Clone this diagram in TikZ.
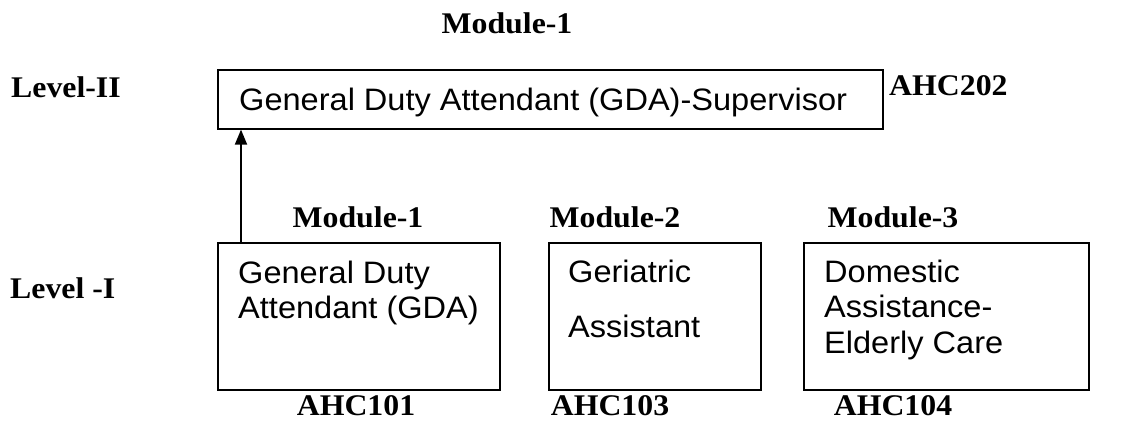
\documentclass[tikz,border=0pt]{standalone}
\usepackage{fontspec}
\setmainfont{Liberation Serif}[FakeStretch=1.06]
\newfontfamily\arialf{Liberation Sans}[FakeStretch=1.05]
\usetikzlibrary{arrows.meta}
\begin{document}
\begin{tikzpicture}[x=1pt,y=-1pt,
  lbl/.style={font=\fontsize{30}{34}\selectfont\bfseries, inner sep=0pt, anchor=base},
  boxtxt/.style={font=\arialf\fontsize{31}{34}\selectfont, inner sep=0pt, anchor=base west},
  modbox/.style={draw, line width=1.6pt, inner sep=0pt, anchor=north west}]
\useasboundingbox (0,0) rectangle (1144,423);
% top box
\node[modbox, minimum width=665pt, minimum height=59pt] (top) at (217,69) {};
\node[boxtxt] (toptxt) at (239,110) {General Duty Attendant (GDA)-Supervisor};
% level-I boxes
\node[modbox, minimum width=282pt, minimum height=147pt] (b1) at (217,242) {};
\node[modbox, minimum width=212pt, minimum height=147pt] (b2) at (548,242) {};
\node[modbox, minimum width=285pt, minimum height=147pt] (b3) at (803,242) {};
\node[boxtxt] (b1a) at (238,283) {General Duty};
\node[boxtxt] (b1b) at (238,318) {Attendant (GDA)};
\node[boxtxt] (b2a) at (568,282) {Geriatric};
\node[boxtxt] (b2b) at (568,337) {Assistant};
\node[boxtxt] (b3a) at (824,282) {Domestic};
\node[boxtxt] (b3b) at (824,317) {Assistance-};
\node[boxtxt] (b3c) at (824,353) {Elderly Care};
% labels
\node[lbl] (m0) at (507,33) {Module-1};
\node[lbl, anchor=base west] (l2) at (11,97) {Level-II};
\node[lbl, anchor=base west] (a202) at (889,95) {AHC202};
\node[lbl] (m1) at (358,227) {Module-1};
\node[lbl] (m2) at (615,227) {Module-2};
\node[lbl] (m3) at (893,227) {Module-3};
\node[lbl, anchor=base west] (l1) at (10,298) {Level -I};
\node[lbl] (a101) at (356,415) {AHC101};
\node[lbl] (a103) at (610,415) {AHC103};
\node[lbl] (a104) at (893,415) {AHC104};
% arrow
\draw[line width=1.8pt, -{Triangle[length=15pt,width=12pt]}] (b1.north west) ++(24,0) coordinate (as) -- (as |- top.south);
\end{tikzpicture}
\end{document}
